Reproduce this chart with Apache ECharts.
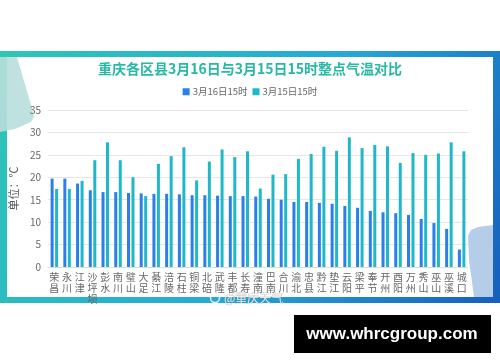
<!DOCTYPE html>
<html><head><meta charset="utf-8">
<style>html,body{margin:0;padding:0;background:#fff}#c{width:500px;height:362px}</style>
<script src="https://cdn.jsdelivr.net/npm/echarts@6/dist/echarts.min.js"></script>
</head><body><div id="c"></div>
<script>
var categories = ['荣昌','永川','江津','沙坪坝','彭水','南川','璧山','大足','綦江','涪陵','石柱','铜梁','北碚','武隆','丰都','长寿','潼南','巴南','合川','渝北','忠县','黔江','垫江','云阳','梁平','奉节','开州','酉阳','万州','秀山','巫山','巫溪','城口'];
var temp16 = [19.7,19.7,18.6,17.1,16.7,16.7,16.5,16.4,16.3,16.3,16.2,16.0,16.0,15.9,15.8,15.8,15.7,15.2,15.0,14.5,14.5,14.3,14.1,13.6,13.2,12.5,12.2,12.0,11.6,10.7,9.8,8.5,3.9];
var temp15 = [17.4,17.4,19.2,23.8,27.8,23.8,20.0,15.8,23.0,24.7,26.7,19.3,23.5,26.2,24.5,25.8,17.5,20.6,20.7,24.1,25.2,26.8,25.9,28.9,26.5,27.2,26.9,23.2,25.4,25.0,25.3,27.8,25.8];
var seriesNames = ['3月16日15时','3月15日15时'];
var yTicks = {min:0, max:35, interval:5};

var font = '"Noto Sans CJK SC", "Noto Sans", sans-serif';
var chart = echarts.init(document.getElementById('c'), null, {renderer:'canvas'});
chart.setOption({
  backgroundColor:'#fff',
  animation:false,
  graphic:[
    {type:'rect', z:-10, shape:{x:0,y:51,width:500,height:252},
      style:{fill:new echarts.graphic.LinearGradient(0,0,1,1,[{offset:0,color:'#2dc7b4'},{offset:0.55,color:'#25a9d6'},{offset:1,color:'#155fbd'}])}},
    {type:'rect', z:-9, shape:{x:7,y:57,width:486,height:240}, style:{fill:'#fff'}},
    {type:'polygon', z:-8, shape:{points:[[0,57],[17,57],[33,112],[34,117],[31,122],[15,129],[0,132]]}, style:{fill:'#b8dedc', opacity:0.9}},
    {type:'polygon', z:-8, shape:{points:[[493,225],[478,227],[471,230],[468,236],[469,260],[474,297],[493,297]]}, style:{fill:'#b6cdea'}},
    {type:'circle', z:50, shape:{cx:215,cy:298,r:4.5}, style:{fill:'none', stroke:'#ffffff', lineWidth:1.5, opacity:0.85}},
    {type:'text', z:50, style:{x:224,y:298,text:'@重庆天气', fill:'rgba(255,255,255,0.85)', stroke:'rgba(120,120,120,0.6)', lineWidth:0.6, font:'12px '+font, textVerticalAlign:'middle'}},
    {type:'rect', z:50, shape:{x:294,y:315,width:197,height:38}, style:{fill:'#000'}},
    {type:'text', z:51, style:{x:392,y:334,text:'www.whrcgroup.com', fill:'#fff', font:'bold 17px "Liberation Sans", Arial, sans-serif', textAlign:'center', textVerticalAlign:'middle'}}
  ],
  title:{text:'重庆各区县3月16日与3月15日15时整点气温对比', left:'center', top:57,
    textStyle:{color:'#27b8a6', fontSize:14, fontWeight:'bold', fontFamily:font}},
  legend:{data:seriesNames, top:82, left:'center', itemWidth:7, itemHeight:7, itemGap:5, icon:'rect',
    textStyle:{color:'#666', fontSize:9.5, fontFamily:font, padding:[0,0,0,-2]}},
  grid:{left:45, right:32, top:110, bottom:95},
  xAxis:{type:'category', data:categories,
    axisLine:{lineStyle:{color:'#ddd'}}, axisTick:{show:false},
    axisLabel:{interval:0, color:'#666', fontSize:10, fontFamily:font, lineHeight:11, margin:5,
      formatter:function(v){return v.split('').join('\n');}}},
  yAxis:{type:'value', min:yTicks.min, max:yTicks.max, interval:yTicks.interval,
    name:'单位：℃', nameLocation:'middle', nameGap:19, nameRotate:90,
    nameTextStyle:{color:'#555', fontSize:11, fontFamily:font},
    axisLine:{show:false}, axisTick:{show:false},
    axisLabel:{color:'#666', fontSize:10, fontFamily:font, margin:7},
    splitLine:{lineStyle:{color:'#e6e6e6'}}},
  series:[
    {name:seriesNames[0], type:'bar', data:temp16, barWidth:3, barGap:'50%', itemStyle:{color:'#2a80e8'}},
    {name:seriesNames[1], type:'bar', data:temp15, barWidth:3, itemStyle:{color:'#1fb8c8'}}
  ]
});
</script></body></html>
